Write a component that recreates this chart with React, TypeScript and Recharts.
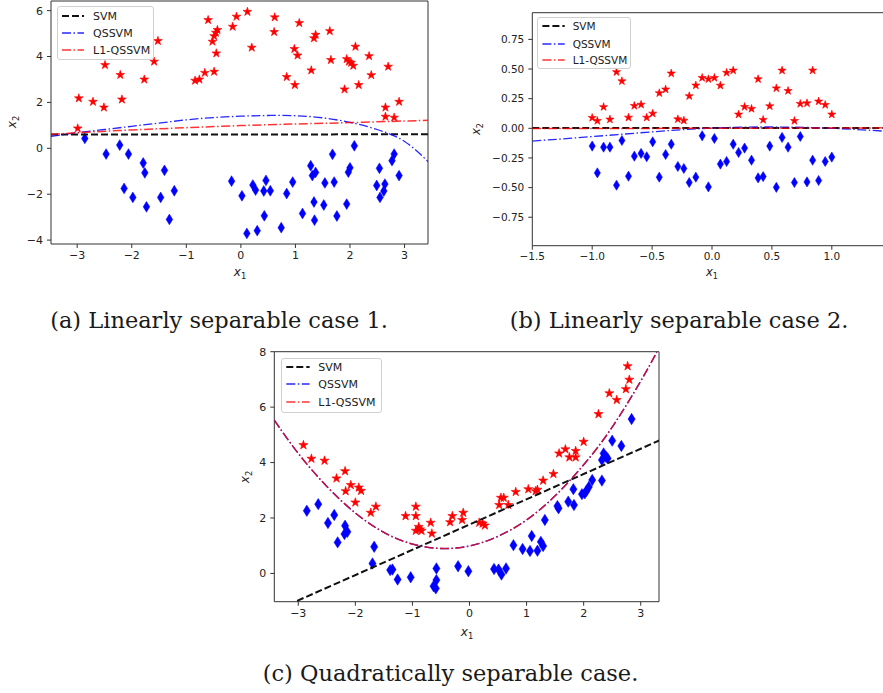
import React from "react";
import { ScatterChart, Scatter, XAxis, YAxis, ReferenceArea } from "recharts";

type P = [number, number];

// ---- (a) linearly separable case 1 ----
const starsA: P[] = [
  [-2.97, 2.18], [-2.71, 2.03], [-2.51, 1.78], [-2.49, 3.63], [-2.21, 3.2], [-2.18, 2.13],
  [-1.77, 3.0], [-1.59, 3.78], [-1.52, 4.68], [-2.99, 0.87], [-0.84, 2.95], [-0.76, 3.0],
  [-0.66, 3.29], [-0.6, 5.59], [-0.49, 3.34], [-0.45, 4.14], [-0.52, 4.65], [-0.49, 4.89],
  [-0.46, 5.04], [-0.43, 5.16], [-0.15, 5.3], [-0.08, 5.74], [0.12, 5.95], [0.2, 4.39],
  [0.62, 5.71], [0.61, 5.07], [0.84, 3.11], [0.98, 4.33], [1.04, 4.05], [0.99, 2.76],
  [1.07, 5.46], [1.29, 3.4], [1.34, 4.8], [1.37, 4.95], [1.63, 5.11], [1.65, 3.85],
  [1.94, 3.89], [1.98, 3.78], [2.02, 3.73], [2.06, 3.6], [2.1, 4.43], [1.9, 2.57],
  [2.16, 2.76], [2.35, 4.02], [2.39, 3.19], [2.7, 3.56], [2.65, 1.78], [2.65, 1.38],
  [2.81, 1.34], [2.9, 2.03],
];
const diamondsA: P[] = [
  [-2.86, 0.43], [-2.47, -0.25], [-2.22, 0.14], [-2.06, -0.25], [-2.14, -1.75], [-1.98, -2.14],
  [-1.79, -0.64], [-1.76, -1.07], [-1.73, -2.55], [-1.47, -2.14], [-1.4, -0.96], [-1.31, -3.1],
  [-1.22, -1.85], [-0.17, -1.43], [0.02, -2.07], [0.11, -3.71], [0.22, -1.6], [0.27, -1.82],
  [0.3, -3.59], [0.46, -1.4], [0.43, -2.94], [0.42, -1.86], [0.54, -1.85], [0.74, -3.46],
  [0.84, -1.97], [0.95, -1.47], [1.13, -2.84], [1.28, -0.76], [1.31, -1.19], [1.37, -1.05],
  [1.34, -2.34], [1.35, -3.13], [1.54, -1.51], [1.52, -2.47], [1.68, -0.26], [1.71, -1.47],
  [1.76, -2.95], [1.94, -2.43], [1.97, -1.04], [2.0, -0.85], [2.08, 0.11], [2.49, -1.62],
  [2.54, -0.87], [2.55, -2.14], [2.62, -1.86], [2.64, -1.56], [2.77, -0.54], [2.81, -0.25],
  [2.9, -1.19],
];
const svmA: P[] = [[-3.48, 0.6], [3.43, 0.61]];
const qssvmA: P[] = [
  [-3.48, 0.52], [-3, 0.68], [-2.5, 0.82], [-2, 0.96], [-1.5, 1.1], [-1, 1.24], [-0.5, 1.34],
  [0, 1.4], [0.5, 1.43], [1, 1.42], [1.5, 1.33], [2, 1.13], [2.5, 0.82], [3, 0.3], [3.43, -0.58],
];
const l1A: P[] = [
  [-3.48, 0.6], [-3, 0.68], [-2, 0.8], [-1, 0.9], [0, 0.99], [1, 1.06], [2, 1.12], [3, 1.19], [3.43, 1.22],
];

// ---- (b) linearly separable case 2 ----
const starsB: P[] = [
  [-1.0, 0.089], [-0.957, 0.063], [-0.905, 0.18], [-0.852, 0.075], [-0.797, 0.475], [-0.752, 0.398],
  [-0.697, 0.091], [-0.648, 0.19], [-0.592, 0.2], [-0.545, 0.091], [-0.495, 0.125], [-0.44, 0.297],
  [-0.387, 0.328], [-0.34, 0.463], [-0.285, 0.077], [-0.235, 0.066], [-0.19, 0.272], [-0.135, 0.362],
  [-0.082, 0.426], [-0.03, 0.415], [0.02, 0.426], [0.07, 0.361], [0.122, 0.469], [0.177, 0.488],
  [0.222, 0.117], [0.272, 0.181], [0.33, 0.165], [0.385, 0.415], [0.427, 0.072], [0.482, 0.187],
  [0.537, 0.338], [0.585, 0.488], [0.635, 0.316], [0.688, 0.063], [0.737, 0.207], [0.793, 0.212],
  [0.84, 0.488], [0.89, 0.227], [0.945, 0.198], [1.0, 0.117],
];
const diamondsB: P[] = [
  [-1.0, -0.15], [-0.957, -0.376], [-0.905, -0.159], [-0.852, -0.159], [-0.797, -0.48], [-0.752, -0.103],
  [-0.697, -0.404], [-0.648, -0.235], [-0.592, -0.212], [-0.545, -0.24], [-0.495, -0.114], [-0.44, -0.412],
  [-0.387, -0.221], [-0.34, -0.134], [-0.285, -0.322], [-0.235, -0.339], [-0.19, -0.457], [-0.135, -0.412],
  [-0.082, -0.063], [-0.03, -0.494], [0.02, -0.086], [0.07, -0.302], [0.122, -0.28], [0.177, -0.134],
  [0.222, -0.204], [0.272, -0.167], [0.33, -0.269], [0.385, -0.418], [0.427, -0.407], [0.482, -0.15],
  [0.537, -0.498], [0.585, -0.077], [0.635, -0.159], [0.688, -0.457], [0.737, -0.069], [0.793, -0.452],
  [0.84, -0.269], [0.89, -0.44], [0.945, -0.28], [1.0, -0.243],
];
const svmB: P[] = [[-1.5, 0.002], [1.5, 0.002]];
const qssvmB: P[] = [
  [-1.5, -0.108], [-1, -0.07], [-0.5, -0.03], [0, 0.002], [0.5, 0.011], [1, 0.0], [1.5, -0.028],
];
const l1B: P[] = [[-1.5, -0.001], [0, 0.0], [1.5, 0.004]];

// ---- (c) quadratically separable case ----
const starsC: P[] = [
  [-2.91, 4.63], [-2.77, 4.14], [-2.54, 4.07], [-2.33, 3.43], [-2.18, 3.69], [-2.17, 2.97],
  [-2.08, 3.19], [-2.0, 2.56], [-1.94, 3.1], [-1.9, 2.98], [-1.73, 2.19], [-1.64, 2.41],
  [-1.12, 2.07], [-0.94, 2.41], [-0.94, 2.07], [-0.94, 1.54], [-0.89, 1.68], [-0.87, 1.59],
  [-0.84, 1.54], [-0.68, 1.83], [-0.66, 1.44], [-0.34, 1.85], [-0.3, 2.07], [-0.11, 2.19],
  [-0.13, 1.93], [0.17, 1.83], [0.23, 1.8], [0.27, 1.73], [0.52, 2.47], [0.55, 2.73],
  [0.6, 2.73], [0.68, 2.47], [0.81, 2.94], [1.03, 3.04], [1.16, 2.97], [1.19, 3.02],
  [1.29, 3.35], [1.47, 3.59], [1.57, 4.33], [1.68, 4.48], [1.75, 4.19], [1.86, 4.19],
  [1.86, 4.42], [2.0, 4.75], [2.26, 5.75], [2.45, 6.5], [2.58, 6.26], [2.74, 6.65],
  [2.8, 6.99], [2.77, 7.48],
];
const diamondsC: P[] = [
  [-2.85, 2.26], [-2.65, 2.5], [-2.48, 1.82], [-2.37, 2.11], [-2.31, 1.12], [-2.19, 1.42],
  [-2.18, 1.72], [-2.14, 1.5], [-1.7, 0.36], [-1.67, 0.96], [-1.39, 0.12], [-1.35, 0.14],
  [-1.26, -0.22], [-1.03, -0.14], [-0.63, -0.46], [-0.59, -0.54], [-0.58, -0.24], [-0.58, 0.18],
  [-0.2, 0.26], [-0.02, 0.08], [0.43, 0.16], [0.51, 0.14], [0.56, -0.04], [0.64, 0.18],
  [0.77, 1.02], [0.93, 0.88], [1.06, 0.81], [1.09, 1.35], [1.19, 0.82], [1.25, 1.14],
  [1.29, 0.99], [1.32, 1.93], [1.54, 2.43], [1.56, 2.35], [1.73, 2.59], [1.82, 3.04],
  [1.83, 2.47], [1.97, 2.86], [2.02, 2.89], [2.05, 2.98], [2.09, 3.12], [2.15, 3.37],
  [2.32, 3.35], [2.32, 4.09], [2.35, 4.33], [2.39, 4.21], [2.42, 4.15], [2.5, 4.79],
  [2.66, 4.6], [2.84, 5.57],
];
const svmC: P[] = [[-3.02, -0.99], [3.34, 4.81]];
const qssvmC: P[] = [
  [-3.42, 5.53], [-3, 4.33], [-2.5, 3.14], [-2, 2.18], [-1.5, 1.48], [-1, 1.06], [-0.5, 0.9],
  [0, 0.99], [0.5, 1.34], [1, 1.93], [1.5, 2.8], [2, 3.92], [2.5, 5.28], [3, 6.94], [3.28, 7.98],
];
const l1C: P[] = qssvmC;

const ticksA_x = [-3, -2, -1, 0, 1, 2, 3];
const ticksA_y = [-4, -2, 0, 2, 4, 6];
const ticksB_x = [-1.5, -1, -0.5, 0, 0.5, 1];
const ticksB_y = [-0.75, -0.5, -0.25, 0, 0.25, 0.5, 0.75];
const ticksC_x = [-3, -2, -1, 0, 1, 2, 3];
const ticksC_y = [0, 2, 4, 6, 8];

const legendLabels = ["SVM", "QSSVM", "L1-QSSVM"];

const toPts = (a: P[]) => a.map(([x, y]) => ({ x, y }));
const minus = (s: string) => s.replace("-", "\u2212");
const fmt0 = (v: number) => minus(String(v));
const fmt1 = (v: number) => minus(v.toFixed(1));
const fmt2 = (v: number) => minus(v.toFixed(2));

const SVM_STYLE = { stroke: "#111", strokeWidth: 2, strokeDasharray: "7 3", fill: "none" };
const Q_STYLE = { stroke: "#0000ff", strokeWidth: 1.3, strokeDasharray: "9 2.5 1.5 2.5", strokeOpacity: 0.85, fill: "none" };
const L1_STYLE = { stroke: "#ff0000", strokeWidth: 1.5, strokeDasharray: "9 2.5 1.5 2.5", strokeOpacity: 0.8, fill: "none" };
const styles = [SVM_STYLE, Q_STYLE, L1_STYLE];

function starPoints(cx: number, cy: number, r: number) {
  const pts: string[] = [];
  for (let i = 0; i < 10; i++) {
    const a = (-90 + i * 36) * (Math.PI / 180);
    const rr = i % 2 === 0 ? r : r * 0.382;
    pts.push(`${cx + rr * Math.cos(a)},${cy + rr * Math.sin(a)}`);
  }
  return pts.join(" ");
}

const noShape = () => <g />;

function Panel(props: any) {
  const {
    width, height, margin, yAxisWidth, xAxisHeight, xDomain, yDomain, xTicks, yTicks,
    xFmt, yFmt, fontSize, stars, diamonds, svm, qssvm, l1, starR, diaW, diaH, l1Style,
  } = props;
  const tick = { fontSize, fill: "#222", fontFamily: "DejaVu Sans" };
  return (
    <ScatterChart width={width} height={height} margin={margin}>
      <XAxis
        type="number" dataKey="x" domain={xDomain} ticks={xTicks} allowDataOverflow
        height={xAxisHeight} tickSize={4} tickMargin={3} axisLine={false} interval={0}
        tick={tick} tickLine={{ stroke: "#333" }} tickFormatter={xFmt}
      />
      <YAxis
        type="number" dataKey="y" domain={yDomain} ticks={yTicks} allowDataOverflow
        width={yAxisWidth} tickSize={4} tickMargin={4} axisLine={false} interval={0}
        tick={tick} tickLine={{ stroke: "#333" }} tickFormatter={yFmt}
      />
      <ReferenceArea
        x1={xDomain[0]} x2={xDomain[1]} y1={yDomain[0]} y2={yDomain[1]}
        fill="none" stroke="#333" strokeWidth={1} ifOverflow="visible"
      />
      <Scatter
        data={toPts(stars)} isAnimationActive={false}
        shape={(p: any) => <polygon points={starPoints(p.cx, p.cy, starR)} fill="#ff0000" stroke="#ff0000" strokeWidth={0.6} />}
      />
      <Scatter
        data={toPts(diamonds)} isAnimationActive={false}
        shape={(p: any) => (
          <polygon
            points={`${p.cx},${p.cy - diaH} ${p.cx + diaW},${p.cy} ${p.cx},${p.cy + diaH} ${p.cx - diaW},${p.cy}`}
            fill="#0000ff" stroke="#0000ff" strokeWidth={0.5}
          />
        )}
      />
      <Scatter data={toPts(svm)} isAnimationActive={false} shape={noShape} line={SVM_STYLE} />
      <Scatter data={toPts(qssvm)} isAnimationActive={false} shape={noShape} line={Q_STYLE} lineJointType="natural" />
      <Scatter data={toPts(l1)} isAnimationActive={false} shape={noShape} line={l1Style || L1_STYLE} lineJointType="natural" />
    </ScatterChart>
  );
}

function LegendBox({ left, top, w, h, rows, x0, x1, tx, fontSize }: any) {
  return (
    <div
      style={{
        position: "absolute", left, top, width: w, height: h, boxSizing: "border-box",
        border: "1px solid #d0d0d0", borderRadius: 3, background: "rgba(255,255,255,0.85)",
        fontFamily: "DejaVu Sans", fontSize, color: "#222",
      }}
    >
      {legendLabels.map((lab, i) => (
        <div key={lab} style={{ position: "absolute", left: 0, top: rows[i], width: "100%" }}>
          <svg width={x1 + 2} height={6} style={{ position: "absolute", left: 0, top: -3 }}>
            <line x1={x0} x2={x1} y1={3} y2={3} {...styles[i]} />
          </svg>
          <span style={{ position: "absolute", left: tx, top: 0, transform: "translateY(-50%)", whiteSpace: "nowrap", lineHeight: 1 }}>
            {lab}
          </span>
        </div>
      ))}
    </div>
  );
}

function AxisLabel({ x, y, sub, rotate, fontSize }: any) {
  return (
    <div
      style={{
        position: "absolute", left: x, top: y, whiteSpace: "nowrap",
        transform: `translate(-50%,-50%)${rotate ? " rotate(-90deg)" : ""}`,
        fontFamily: "DejaVu Sans", fontSize, color: "#222", lineHeight: 1,
      }}
    >
      <i>x</i>
      <span style={{ fontSize: "0.7em", position: "relative", top: "0.35em" }}>{sub}</span>
    </div>
  );
}

function Caption({ x, y, text }: any) {
  return (
    <div
      style={{
        position: "absolute", left: x, top: y, transform: "translate(-50%,-50%)",
        whiteSpace: "nowrap", fontFamily: "DejaVu Serif", fontSize: 22.5, color: "#1a1a1a", lineHeight: 1,
      }}
    >
      {text}
    </div>
  );
}

export default function App() {
  return (
    <div style={{ position: "absolute", left: 0, top: 0, width: 883, height: 693, overflow: "hidden", background: "#fff" }}>
      <div style={{ position: "absolute", left: 0, top: 0 }}>
        <Panel
          width={440} height={285} margin={{ top: 1, right: 12, bottom: 0, left: 0 }}
          yAxisWidth={51} xAxisHeight={41} xDomain={[-3.48, 3.43]} yDomain={[-4.17, 6.42]}
          xTicks={ticksA_x} yTicks={ticksA_y} xFmt={fmt0} yFmt={fmt0} fontSize={11}
          stars={starsA} diamonds={diamondsA} svm={svmA} qssvm={qssvmA} l1={l1A}
          starR={4.6} diaW={3.3} diaH={5.4}
        />
      </div>
      <div style={{ position: "absolute", left: 460, top: 0 }}>
        <Panel
          width={440} height={290} margin={{ top: 12.7, right: 8.3, bottom: 0, left: 0 }}
          yAxisWidth={72.3} xAxisHeight={44.3} xDomain={[-1.5, 1.5]} yDomain={[-0.99, 0.975]}
          xTicks={ticksB_x} yTicks={ticksB_y} xFmt={fmt1} yFmt={fmt2} fontSize={10.5}
          stars={starsB} diamonds={diamondsB} svm={svmB} qssvm={qssvmB} l1={l1B}
          starR={4.3} diaW={3.1} diaH={5.1}
        />
      </div>
      <div style={{ position: "absolute", left: 230, top: 345 }}>
        <Panel
          width={440} height={295} margin={{ top: 6.7, right: 11, bottom: 0, left: 0 }}
          yAxisWidth={44.3} xAxisHeight={38.3} xDomain={[-3.42, 3.32]} yDomain={[-1.02, 8]}
          xTicks={ticksC_x} yTicks={ticksC_y} xFmt={fmt0} yFmt={fmt0} fontSize={11}
          stars={starsC} diamonds={diamondsC} svm={svmC} qssvm={qssvmC} l1={l1C}
          starR={4.8} diaW={3.6} diaH={5.7}
          l1Style={{ ...L1_STYLE, stroke: "#c8103c", strokeOpacity: 1 }}
        />
      </div>

      <LegendBox left={57} top={6} w={97} h={54} rows={[8.7, 26, 42.7]} x0={4} x1={26} tx={35} fontSize={11} />
      <LegendBox left={537.3} top={17.3} w={94} h={52} rows={[7.7, 25.4, 42]} x0={4.4} x1={26.7} tx={34.4} fontSize={10.5} />
      <LegendBox left={280.7} top={358.3} w={101} h={54.4} rows={[7.7, 25, 42.7]} x0={4.3} x1={27.6} tx={36.6} fontSize={11} />

      <AxisLabel x={240} y={272} sub="1" fontSize={12} />
      <AxisLabel x={12} y={122} sub="2" rotate fontSize={12} />
      <AxisLabel x={712} y={273} sub="1" fontSize={11.5} />
      <AxisLabel x={476.7} y={129} sub="2" rotate fontSize={11.5} />
      <AxisLabel x={467} y={631.7} sub="1" fontSize={12} />
      <AxisLabel x={245} y={476.7} sub="2" rotate fontSize={12} />

      <Caption x={219} y={320} text="(a) Linearly separable case 1." />
      <Caption x={679} y={320} text="(b) Linearly separable case 2." />
      <Caption x={450.5} y={673} text="(c) Quadratically separable case." />
    </div>
  );
}
